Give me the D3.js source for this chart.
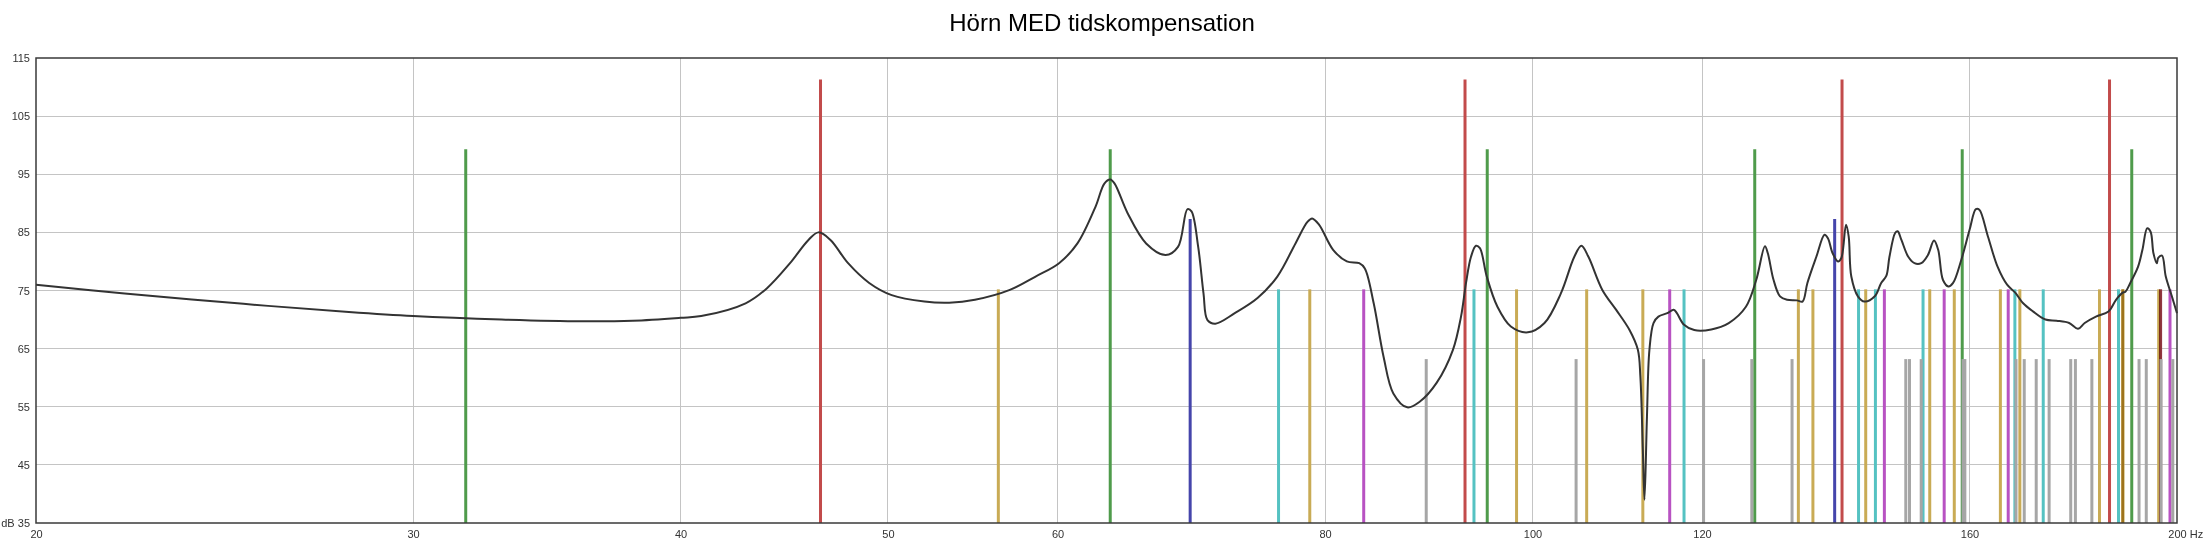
<!DOCTYPE html>
<html><head><meta charset="utf-8">
<script src="https://cdn.jsdelivr.net/npm/d3@7"></script>
<style>
html,body{margin:0;padding:0;background:#fff;}
svg{display:block;}
text{font-family:"Liberation Sans", Arial, sans-serif;}
</style></head><body>
<svg id="chart" width="2204" height="540"></svg>
<script>
// ---------- data ----------
const chartTitle = "Hörn MED tidskompensation";
const xTicks = [20, 30, 40, 50, 60, 80, 100, 120, 160, 200];
const xUnit = "Hz";
const yTicks = [35, 45, 55, 65, 75, 85, 95, 105, 115];
const yUnit = "dB";

// frequency response (Hz, dB)
const responseFreq = [20, 22, 25, 28, 30, 33, 36, 38, 40, 40.9, 42.9, 43.9, 45.0, 45.9, 46.4, 47.0, 47.9, 49.0, 50.2, 52.0, 53.4, 54.9, 57.0, 58.6, 60.1, 61.3, 62.5, 63.1, 63.5, 63.8, 64.7, 66.0, 67.4, 68.3, 69.0, 69.3, 69.8, 70.2, 70.5, 71.1, 72.6, 74.4, 76.0, 77.5, 78.5, 78.9, 79.5, 80.7, 81.9, 83.0, 83.5, 84.3, 85.2, 86.1, 87.4, 88.6, 90.2, 91.8, 92.6, 93.1, 93.6, 94.1, 94.5, 95.2, 96.3, 97.7, 99.5, 101.3, 103.1, 104.6, 105.4, 106.2, 107.8, 109.4, 111.0, 112.0, 112.3, 112.6, 112.8, 113.1, 113.4, 113.9, 114.5, 115.6, 116.4, 116.8, 117.7, 119.0, 121.2, 123.5, 125.8, 127.2, 128.4, 128.8, 129.6, 130.5, 131.5, 132.9, 133.7, 134.4, 135.7, 136.9, 137.4, 138.1, 138.9, 139.4, 140.1, 140.5, 140.9, 141.9, 142.9, 144.5, 145.5, 146.3, 146.8, 147.7, 148.1, 148.7, 149.8, 150.8, 151.9, 153.0, 154.0, 154.7, 155.5, 156.4, 157.2, 158.6, 160.0, 161.1, 161.7, 163.2, 164.9, 166.6, 168.1, 169.5, 171.3, 173.6, 175.7, 178.1, 179.8, 181.1, 183.3, 185.8, 187.3, 188.6, 189.2, 190.2, 191.8, 192.7, 193.7, 194.4, 195.0, 195.7, 196.0, 196.8, 197.6, 198.9, 200];
const responseDb = [76.0, 74.5, 72.7, 71.3, 70.6, 70.0, 69.7, 69.8, 70.3, 70.6, 72.8, 75.4, 79.7, 83.7, 85.0, 83.7, 79.7, 76.3, 74.2, 73.1, 72.9, 73.4, 75.1, 77.4, 79.7, 83.1, 89.4, 93.4, 94.1, 93.4, 88.3, 83.1, 81.1, 82.5, 89.0, 88.6, 82.5, 74.5, 69.9, 69.3, 71.1, 73.7, 77.4, 83.1, 86.8, 87.4, 86.3, 82.0, 80.0, 79.7, 78.8, 72.8, 63.6, 57.3, 54.9, 55.9, 59.1, 64.8, 70.5, 76.3, 80.8, 82.7, 82.3, 77.4, 72.2, 68.8, 67.8, 69.4, 74.5, 80.8, 82.7, 80.8, 75.1, 71.7, 68.2, 64.8, 60.2, 47.6, 39.0, 53.3, 64.8, 69.4, 70.5, 71.1, 71.7, 71.1, 69.1, 68.2, 68.3, 69.4, 72.2, 76.8, 82.6, 81.4, 76.8, 74.0, 73.4, 73.3, 73.1, 76.3, 80.8, 84.6, 84.0, 81.4, 80.0, 80.6, 86.3, 84.3, 77.4, 74.0, 73.1, 74.0, 76.3, 77.5, 80.8, 84.9, 85.2, 83.7, 80.8, 79.7, 79.7, 81.1, 83.6, 82.0, 76.8, 75.7, 76.3, 80.3, 85.4, 89.0, 88.9, 84.3, 79.1, 76.0, 74.6, 72.8, 71.4, 70.0, 69.8, 69.4, 68.4, 69.4, 70.5, 71.4, 73.4, 74.6, 74.8, 76.3, 79.1, 82.0, 85.7, 85.1, 81.4, 79.7, 80.6, 81.0, 77.4, 74.0, 71.1];

// room modes (Hz) per type, and the level (dB) each type is drawn up to
const modesAxialL = [46.5, 93.0, 139.5, 186.0];
const modesAxialW = [31.75, 63.5, 95.25, 127.0, 158.75, 190.5];
const modesAxialH = [69.2, 138.4];
const modesTangLW = [56.3, 78.7, 98.3, 106.0, 112.6, 133.1, 135.2, 143.1, 153.3, 157.4, 165.4, 168.9, 184.0, 188.65, 188.7, 196.1, 196.5];
const modesTangWH = [76.1, 93.9, 117.7, 142.0, 144.6, 152.2, 168.0, 173.2, 187.8];
const modesTangLH = [83.4, 115.9, 146.0, 155.7, 166.8, 196.5, 198.5];
const modesOblique = [89.2, 104.8, 120.2, 126.6, 132.2, 149.4, 150.0, 151.9, 158.9, 159.2, 168.2, 169.7, 171.9, 174.3, 178.4, 179.3, 182.5, 192.0, 193.5, 196.6, 199.1];
const modeTypes = ["axialL", "axialW", "axialH", "tangLW", "tangWH", "tangLH", "oblique"];
const modeLevels = [111.3, 99.3, 87.3, 75.2, 75.2, 75.2, 63.2];

// ---------- styles ----------
const modeColor = {
  axialL: "#c24b4b", axialW: "#4f9b4b", axialH: "#4545ab",
  tangLW: "#c9ab55", tangWH: "#55c2c2", tangLH: "#b852c2", oblique: "#a6a6a6"
};

// ---------- drawing ----------
const W = 2204, H = 540;
const m = {left: 36, right: 2177, top: 58, bottom: 523};
const svg = d3.select("#chart");
const x = d3.scaleLog().domain([20, 200]).range([m.left, m.right]);
const y = d3.scaleLinear().domain([35, 115]).range([m.bottom, m.top]);

// title
svg.append("text").attr("x", W / 2).attr("y", 31).attr("text-anchor", "middle")
  .attr("font-size", 24).attr("fill", "#000").text(chartTitle);

// grid
const grid = svg.append("g").attr("stroke", "#c4c4c4").attr("stroke-width", 1).attr("shape-rendering", "crispEdges");
grid.selectAll(".hg").data(yTicks.slice(1, -1)).join("line")
  .attr("x1", m.left).attr("x2", m.right).attr("y1", d => y(d)).attr("y2", d => y(d));
grid.selectAll(".vg").data(xTicks.slice(1, -1)).join("line")
  .attr("y1", m.top).attr("y2", m.bottom).attr("x1", d => x(d)).attr("x2", d => x(d));

// mode lines
const modeLists = [modesAxialL, modesAxialW, modesAxialH, modesTangLW, modesTangWH, modesTangLH, modesOblique];
const modeData = [];
modeTypes.forEach((t, i) => modeLists[i].forEach(f => modeData.push({type: t, f: f, level: modeLevels[i]})));
const modesG = svg.append("g");
const axialG = modesG.append("g");
const tangG = modesG.append("g").style("isolation", "isolate");
const oblG = modesG.append("g");
function drawModes(g, types, blend) {
  g.selectAll("line").data(modeData.filter(d => types.includes(d.type))).join("line")
    .attr("x1", d => x(d.f)).attr("x2", d => x(d.f))
    .attr("y1", y(35)).attr("y2", d => y(d.level))
    .attr("stroke", d => modeColor[d.type]).attr("stroke-width", 3)
    .style("mix-blend-mode", blend || "normal");
}
drawModes(axialG, ["axialL", "axialW", "axialH"]);
drawModes(tangG, ["tangLW", "tangWH", "tangLH"], "multiply");
drawModes(oblG, ["oblique"]);

// response curve
const pts = responseFreq.map((f, i) => [f, responseDb[i]]);
const line = d3.line().x(d => x(d[0])).y(d => y(d[1])).curve(d3.curveCatmullRom.alpha(0.5));
svg.append("path").attr("d", line(pts)).attr("fill", "none")
  .attr("stroke", "#333").attr("stroke-width", 2).attr("stroke-linejoin", "round");

// frame
svg.append("rect").attr("x", m.left).attr("y", m.top)
  .attr("width", m.right - m.left).attr("height", m.bottom - m.top)
  .attr("fill", "none").attr("stroke", "#3a3a3a").attr("stroke-width", 1.5);

// axes
const yAxis = d3.axisLeft(y).tickValues(yTicks).tickSize(0).tickPadding(6)
  .tickFormat(d => d === 35 ? yUnit + " " + d : String(d));
const gy = svg.append("g").attr("transform", `translate(${m.left},0)`).call(yAxis);
gy.select(".domain").remove();
gy.selectAll("text").attr("font-size", 11).attr("fill", "#333").attr("font-family", "Liberation Sans, Arial, sans-serif");

const xAxis = d3.axisBottom(x).tickValues(xTicks).tickSize(0).tickPadding(7).tickFormat(d => String(d));
const gx = svg.append("g").attr("transform", `translate(0,${m.bottom})`).call(xAxis);
gx.select(".domain").remove();
gx.selectAll("text").attr("font-size", 11).attr("fill", "#333").attr("font-family", "Liberation Sans, Arial, sans-serif");
gx.selectAll(".tick").filter(d => d === 200).select("text").each(function () {
  const t = d3.select(this);
  const w = this.getComputedTextLength();
  t.attr("text-anchor", "start").attr("x", -w / 2);
  t.append("tspan").text(" " + xUnit);
});
</script>
</body></html>
